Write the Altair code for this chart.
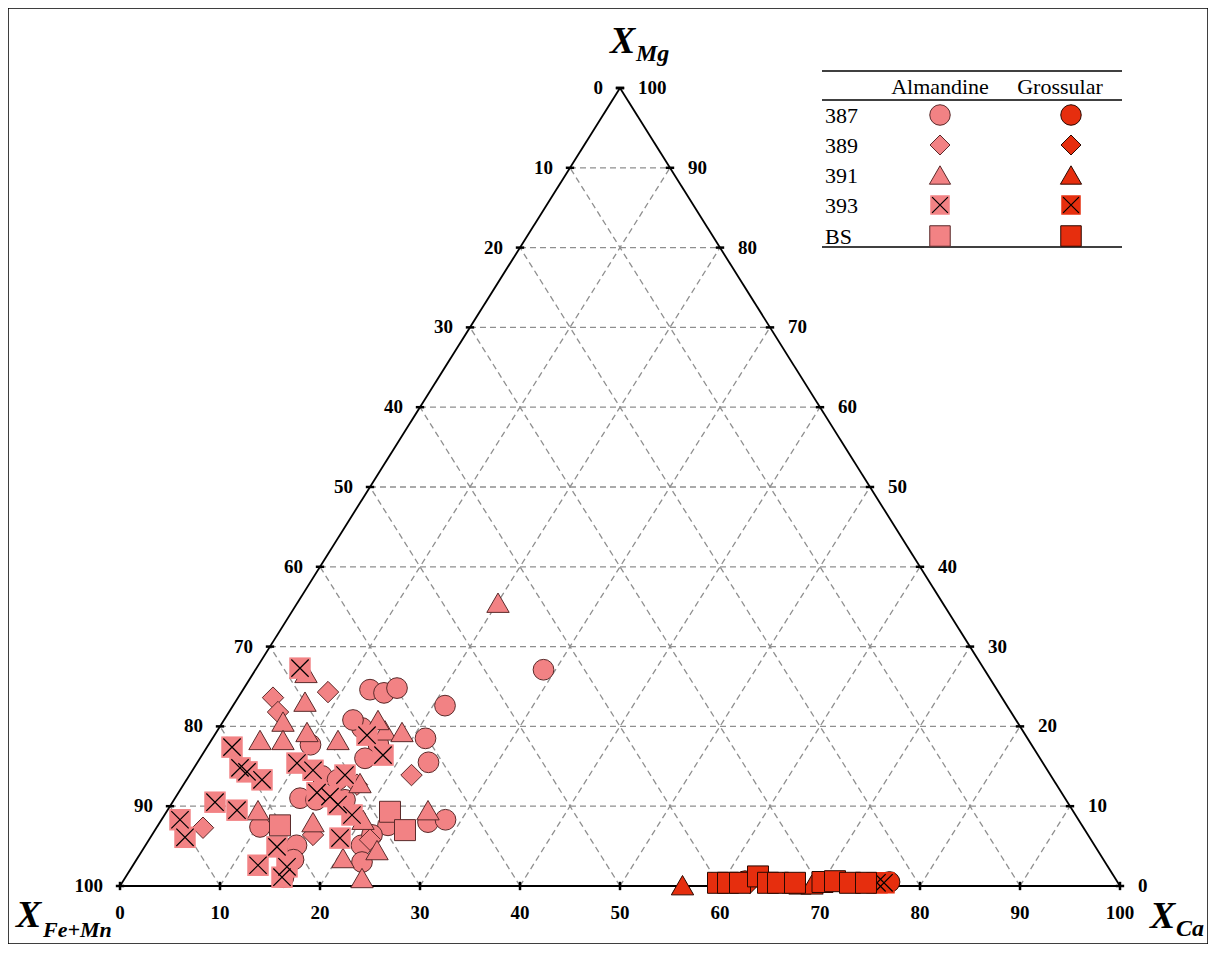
import altair as alt
import pandas as pd

# ---------------- data: garnet compositions (mol %), X_Mg and X_Ca ; X_Fe+Mn = 100 - Mg - Ca
alm_387_mg = [27.1, 24.6, 24.2, 24.8, 22.6, 18.5, 15.5, 8.0, 8.3, 7.6, 17.7, 19.8, 16.0, 17.7,
              11.0, 10.8, 7.4, 5.1, 3.3, 1.1, 5.1, 3.0, 6.4, 13.8, 20.8, 13.3, 10.8]
alm_387_ca = [28.8, 12.7, 14.3, 15.3, 21.2, 21.3, 23.1, 26.8, 28.4, 23.0, 17.0, 14.3, 16.5, 10.2,
              12.5, 14.2, 10.3, 15.1, 15.7, 15.8, 21.6, 22.7, 22.0, 13.3, 12.9, 15.1, 17.1]
alm_389_mg = [23.6, 21.8, 24.3, 13.9, 7.3, 6.4, 12.7, 5.8]
alm_389_ca = [3.5, 4.9, 8.65, 22.2, 4.65, 16.1, 17.35, 22.1]
alm_391_mg = [35.5, 26.7, 20.6, 18.3, 18.3, 23.1, 19.3, 18.3, 19.5, 19.3, 20.8, 9.5, 8.0, 8.3,
              3.5, 1.0, 4.5, 12.9, 9.5]
alm_391_ca = [20.05, 5.25, 6.0, 7.15, 4.85, 6.95, 9.05, 12.65, 16.75, 18.55, 15.4, 26.05, 15.3,
              20.15, 20.55, 23.7, 23.45, 17.55, 9.05]
alm_393_mg = [27.3, 17.4, 14.8, 14.3, 13.3, 10.5, 9.5, 8.3, 6.1, 2.6, 4.9, 1.1, 15.4, 14.5, 11.7,
              11.2, 10.2, 6.0, 2.4, 18.9, 16.4, 13.9, 8.9]
alm_393_ca = [4.35, 2.5, 4.6, 5.55, 7.55, 4.25, 6.95, 1.85, 3.45, 12.5, 13.25, 15.65, 10.0, 12.05,
              13.85, 15.4, 16.7, 19.0, 15.5, 15.25, 18.1, 15.55, 18.75]
alm_bs_mg = [9.3, 7.0, 7.6]
alm_bs_ca = [22.35, 25.0, 12.2]

gro_387_mg = [0.6, 0.5]
gro_387_ca = [62.2, 76.7]
gro_389_mg = [0.4, 0.4]
gro_389_ca = [62.8, 66.1]
gro_391_mg = [0.1, 0.2, 0.2]
gro_391_ca = [56.2, 67.9, 69.1]
gro_393_mg = [0.4, 0.4]
gro_393_ca = [75.5, 76.2]
gro_bs_mg = [0.4, 0.4, 0.4, 1.2, 0.4, 0.4, 0.4, 0.5, 0.6, 0.4, 0.4]
gro_bs_ca = [59.6, 60.6, 61.8, 63.2, 64.6, 65.6, 67.3, 70.0, 71.2, 72.8, 74.4]

samples = ["387", "389", "391", "393", "BS"]
minerals = ["Almandine", "Grossular"]
tick_values = list(range(0, 101, 10))

# ---------------- tables
series = [
    ("387", "Almandine", alm_387_mg, alm_387_ca), ("387", "Grossular", gro_387_mg, gro_387_ca),
    ("389", "Almandine", alm_389_mg, alm_389_ca), ("389", "Grossular", gro_389_mg, gro_389_ca),
    ("391", "Almandine", alm_391_mg, alm_391_ca), ("391", "Grossular", gro_391_mg, gro_391_ca),
    ("393", "Almandine", alm_393_mg, alm_393_ca), ("393", "Grossular", gro_393_mg, gro_393_ca),
    ("BS", "Almandine", alm_bs_mg, alm_bs_ca), ("BS", "Grossular", gro_bs_mg, gro_bs_ca),
]
rows = []
for s, m, mgs, cas in series:
    for mg, ca in zip(mgs, cas):
        rows.append({"sample": s, "mineral": m, "Mg": mg, "Ca": ca})
pts = pd.DataFrame(rows)

grid_rows = []
for k in tick_values[1:-1]:
    grid_rows.append({"mg1": k, "ca1": 0, "mg2": k, "ca2": 100 - k})
    grid_rows.append({"mg1": 0, "ca1": k, "mg2": 100 - k, "ca2": k})
    grid_rows.append({"mg1": 0, "ca1": 100 - k, "mg2": 100 - k, "ca2": 0})
grid = pd.DataFrame(grid_rows)
outline = pd.DataFrame([
    {"mg1": 0, "ca1": 0, "mg2": 0, "ca2": 100},
    {"mg1": 0, "ca1": 100, "mg2": 100, "ca2": 0},
    {"mg1": 100, "ca1": 0, "mg2": 0, "ca2": 0},
])
left_ticks = pd.DataFrame({"k": tick_values, "Mg": [100 - k for k in tick_values], "Ca": [0] * 11})
right_ticks = pd.DataFrame({"k": tick_values, "Mg": tick_values, "Ca": [100 - k for k in tick_values]})
bottom_ticks = pd.DataFrame({"k": tick_values, "Mg": [0] * 11, "Ca": tick_values})

# ---------------- style
ALM, GRO = "#F28284", "#E62E0E"
ALM_EDGE, GRO_EDGE = "#5a2a2a", "#2a0800"
SERIF = "Liberation Serif"
XS = alt.Scale(domain=[-11.2, 108.8], nice=False, zero=False)
YS = alt.Scale(domain=[-7.27, 110.025], nice=False, zero=False)
FILL = alt.Fill("mineral:N", scale=alt.Scale(domain=minerals, range=[ALM, GRO]), legend=None)
EDGE = alt.Stroke("mineral:N", scale=alt.Scale(domain=minerals, range=[ALM_EDGE, GRO_EDGE]), legend=None)
XPATH = "M-1,-1L1,1M-1,1L1,-1"
SHAPES = {"387": "circle", "389": "diamond", "391": "triangle-up", "393": "square", "BS": "square"}
SIZES = {"387": 430, "389": 460, "391": 500, "393": 460, "BS": 440}


def xy(chart, mgf="Mg", caf="Ca"):
    return chart.transform_calculate(X=f"datum.{caf} + datum.{mgf} / 2")


def seg(df, **mark):
    c = alt.Chart(df).transform_calculate(
        X1="datum.ca1 + datum.mg1 / 2", X2="datum.ca2 + datum.mg2 / 2"
    ).mark_rule(**mark)
    return c.encode(
        x=alt.X("X1:Q", scale=XS, axis=None), x2="X2:Q",
        y=alt.Y("mg1:Q", scale=YS, axis=None), y2="mg2:Q",
    )


layers = []
layers.append(seg(grid, color="#8f8f8f", strokeWidth=1.3, strokeDash=[6, 4]))
layers.append(seg(outline, color="black", strokeWidth=1.8))

# tick marks
hpath = "M-1,0L1,0"
vpath = "M0,-1L0,1"
for df, path in [(left_ticks, hpath), (right_ticks, hpath), (bottom_ticks, vpath)]:
    layers.append(
        xy(alt.Chart(df)).mark_point(shape=path, filled=False, color="black", strokeWidth=2.5, size=70, opacity=1)
        .encode(x=alt.X("X:Q", scale=XS, axis=None), y=alt.Y("Mg:Q", scale=YS, axis=None))
    )

# tick labels
for df, kw in [
    (left_ticks, dict(align="right", baseline="middle", dx=-17)),
    (right_ticks, dict(align="left", baseline="middle", dx=18)),
    (bottom_ticks, dict(align="center", baseline="middle", dy=27)),
]:
    layers.append(
        xy(alt.Chart(df)).mark_text(font=SERIF, fontSize=19, fontWeight="bold", color="black", **kw)
        .encode(x=alt.X("X:Q", scale=XS, axis=None), y=alt.Y("Mg:Q", scale=YS, axis=None), text="k:N")
    )

# data points
for s in samples:
    base = xy(alt.Chart(pts).transform_filter(alt.datum.sample == s))
    enc = dict(x=alt.X("X:Q", scale=XS, axis=None), y=alt.Y("Mg:Q", scale=YS, axis=None), fill=FILL)
    if s == "393":
        layers.append(base.mark_point(shape="square", size=SIZES[s], filled=True, opacity=1, strokeWidth=0).encode(**enc))
        layers.append(base.mark_point(shape=XPATH, size=300, filled=False, color="black", strokeWidth=1.2, opacity=1)
                      .encode(x=enc["x"], y=enc["y"]))
    else:
        enc["stroke"] = EDGE
        layers.append(base.mark_point(shape=SHAPES[s], size=SIZES[s], filled=True, opacity=1, strokeWidth=1).encode(**enc))

# legend table (pixel layout)
dummy = pd.DataFrame({"a": [0]})
O = 8  # page margin
for yy in [71, 100, 247]:
    layers.append(alt.Chart(dummy).mark_rule(color="black", strokeWidth=1.5).encode(
        x=alt.value(822 - O), x2=alt.value(1122 - O), y=alt.value(yy - O)))
for txt, cx in [("Almandine", 940), ("Grossular", 1060)]:
    layers.append(alt.Chart(dummy).mark_text(text=txt, font=SERIF, fontSize=22, align="center", baseline="alphabetic",
                                             color="black").encode(x=alt.value(cx - O), y=alt.value(94 - O)))
row_y = [115, 145, 175, 205, 236]
col_x = {"Almandine": 940, "Grossular": 1071}
for s, ry in zip(samples, row_y):
    layers.append(alt.Chart(dummy).mark_text(text=s, font=SERIF, fontSize=22, align="left", baseline="middle",
                                             color="black").encode(x=alt.value(825 - O), y=alt.value(ry + 1 - O)))
    for m in minerals:
        fill = ALM if m == "Almandine" else GRO
        edge = ALM_EDGE if m == "Almandine" else GRO_EDGE
        if s == "393":
            layers.append(alt.Chart(dummy).mark_point(shape="square", size=380, filled=True, fill=fill, opacity=1,
                                                      strokeWidth=0).encode(x=alt.value(col_x[m] - O), y=alt.value(ry - O)))
            layers.append(alt.Chart(dummy).mark_point(shape=XPATH, size=250, filled=False, color="black", strokeWidth=1.2,
                                                      opacity=1).encode(x=alt.value(col_x[m] - O), y=alt.value(ry - O)))
        else:
            sz = {"387": 420, "389": 400, "391": 450, "BS": 420}[s]
            layers.append(alt.Chart(dummy).mark_point(shape=SHAPES[s], size=sz, filled=True, fill=fill, stroke=edge,
                                                      strokeWidth=1, opacity=1)
                          .encode(x=alt.value(col_x[m] - O), y=alt.value(ry - O)))

# axis titles
def title(main, sub, x, y, sx, sy, subsize=24):
    a = alt.Chart(dummy).mark_text(text=main, font=SERIF, fontSize=38, fontWeight="bold", fontStyle="italic",
                                   align="left", baseline="alphabetic", color="black").encode(
        x=alt.value(x - O), y=alt.value(y - O))
    b = alt.Chart(dummy).mark_text(text=sub, font=SERIF, fontSize=subsize, fontWeight="bold", fontStyle="italic",
                                   align="left", baseline="alphabetic", color="black").encode(
        x=alt.value(sx - O), y=alt.value(sy - O))
    return [a, b]

layers += title("X", "Mg", 610, 53, 636, 61)
layers += title("X", "Fe+Mn", 16, 927, 43, 937, subsize=22)
layers += title("X", "Ca", 1150, 928, 1176, 936)

chart = alt.layer(*layers).properties(
    width=1200, height=936, autosize=alt.AutoSizeParams(type="none"), padding=0, background="white"
).configure_view(stroke="black", strokeWidth=1.5)

chart.save("out.html", embed_options={"renderer": "svg", "actions": False})
